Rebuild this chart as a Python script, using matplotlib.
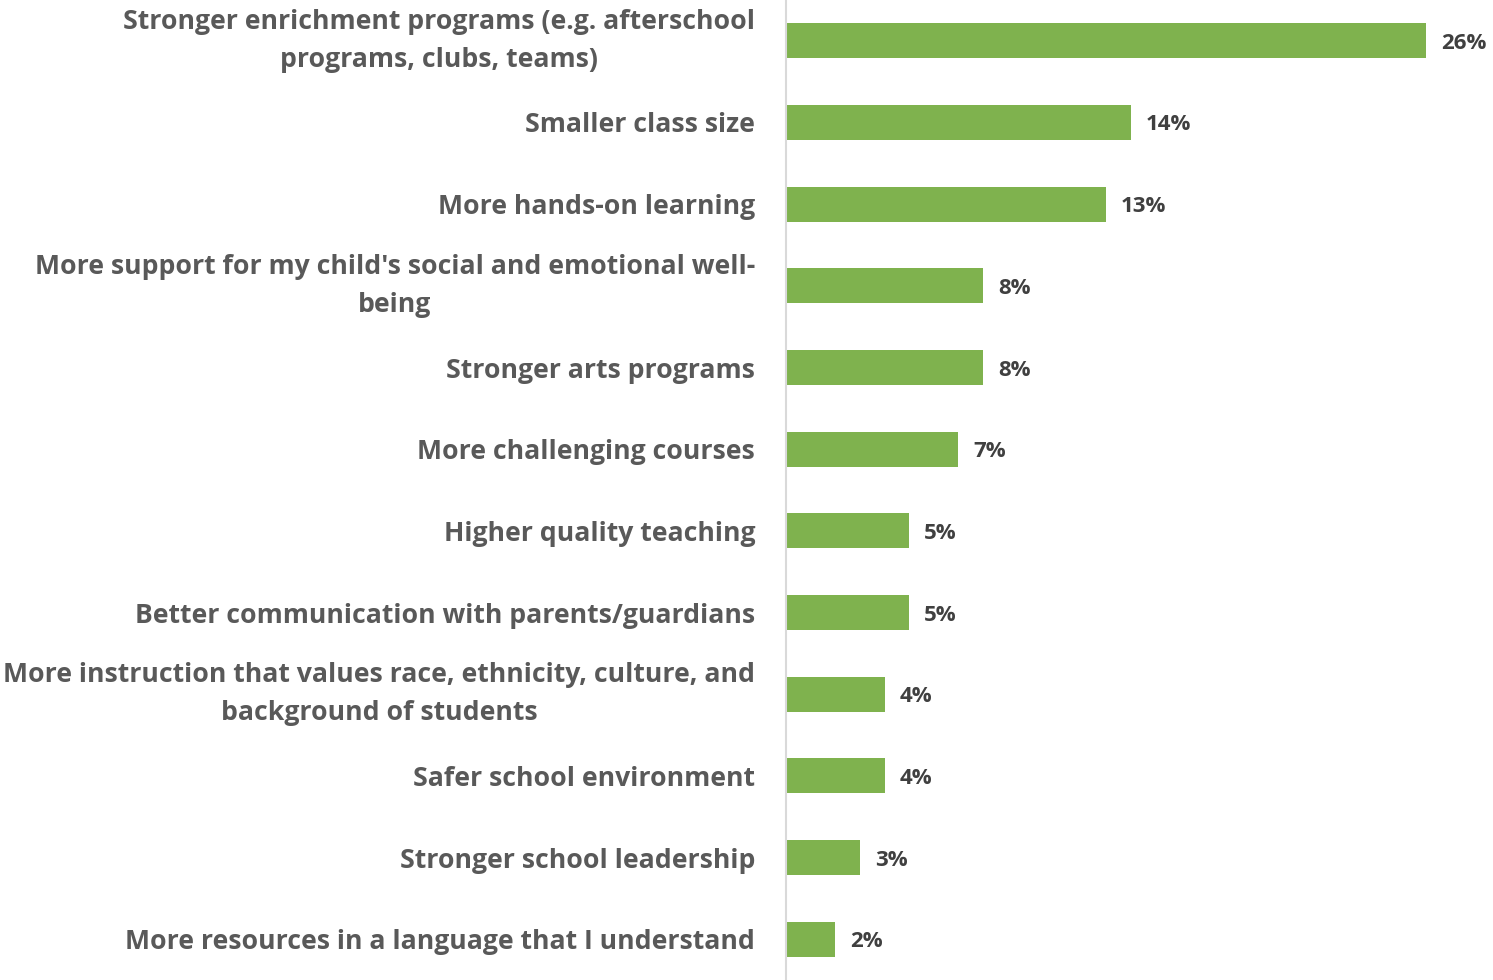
import matplotlib
matplotlib.use("Agg")
import matplotlib.pyplot as plt
import matplotlib.transforms as mtransforms

categories = [
    "Stronger enrichment programs (e.g. afterschool\nprograms, clubs, teams)",
    "Smaller class size",
    "More hands-on learning",
    "More support for my child's social and emotional well-\nbeing",
    "Stronger arts programs",
    "More challenging courses",
    "Higher quality teaching",
    "Better communication with parents/guardians",
    "More instruction that values race, ethnicity, culture, and\nbackground of students",
    "Safer school environment",
    "Stronger school leadership",
    "More resources in a language that I understand",
]
values = [26, 14, 13, 8, 8, 7, 5, 5, 4, 4, 3, 2]
value_labels = ["26%", "14%", "13%", "8%", "8%", "7%", "5%", "5%", "4%", "4%", "3%", "2%"]

plt.rcParams['font.family'] = ['Open Sans', 'DejaVu Sans']

fig = plt.figure(figsize=(14.93, 9.8), dpi=100)
ax = fig.add_axes([786/1493, 0.0, 1 - 786/1493, 1.0])

y = list(range(len(values)))
ax.barh(y, values, height=0.43, color="#7FB24E")
ax.set_ylim(len(values) - 0.5, -0.5)
ax.set_xlim(0, 28.7)

for yi, v, lab in zip(y, values, value_labels):
    ax.text(v + 0.6, yi, lab, va="center_baseline", ha="left", fontsize=16,
            fontweight="bold", color="#404040")

ax.set_yticks(y)
ax.set_yticklabels([])
trans = mtransforms.blended_transform_factory(ax.transAxes, ax.transData) + \
    mtransforms.ScaledTranslation(-31 / 100, 0, fig.dpi_scale_trans)
for yi, cat in zip(y, categories):
    multi = "\n" in cat
    ax.text(0, yi, cat, transform=trans, ha="right",
            va="center" if multi else "center_baseline",
            multialignment="center", fontsize=19.2, fontweight="bold",
            color="#595959", linespacing=1.58)
ax.tick_params(axis="y", length=0)
ax.set_xticks([])
for s in ["top", "right", "bottom"]:
    ax.spines[s].set_visible(False)
ax.spines["left"].set_color("#D9D9D9")
ax.spines["left"].set_linewidth(1.5)

fig.savefig("out.png", dpi=100)
